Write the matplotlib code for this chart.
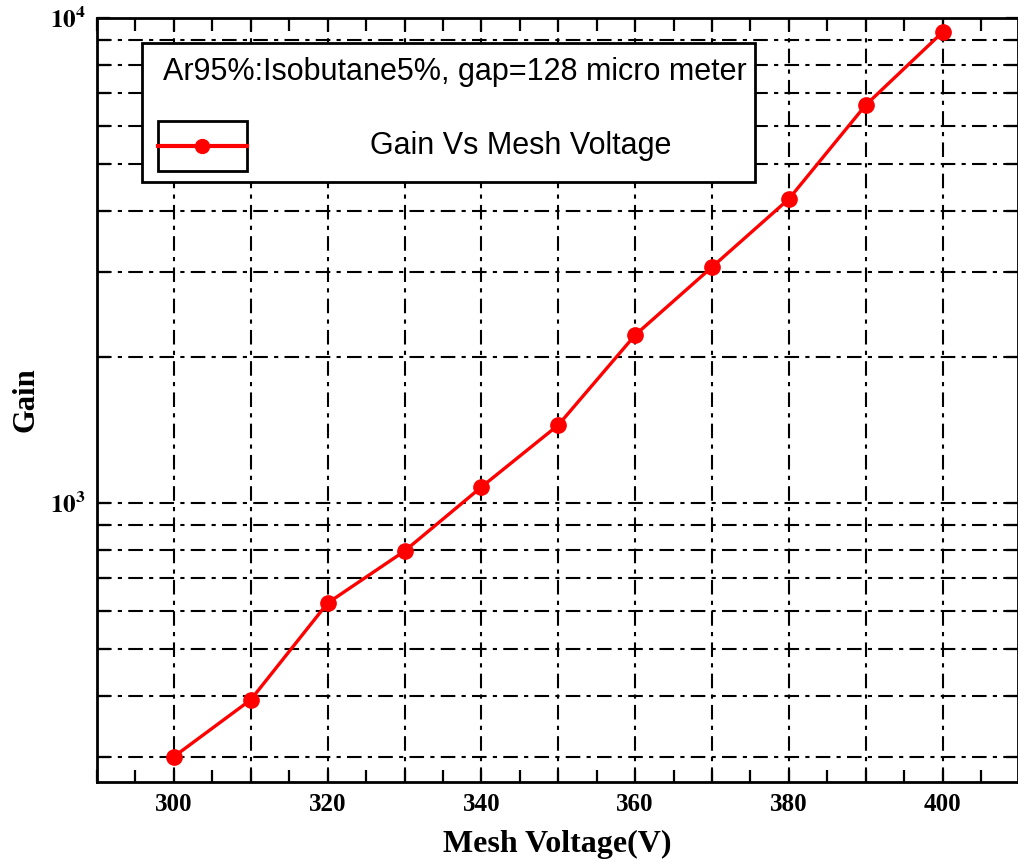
import numpy as np
import matplotlib
matplotlib.use("Agg")
import matplotlib.pyplot as plt
from matplotlib.patches import Rectangle
from matplotlib.ticker import MultipleLocator, FuncFormatter, LogLocator, NullFormatter

# data
mesh_voltage = [300, 310, 320, 330, 340, 350, 360, 370, 380, 390, 400]
gain = [300, 393, 622, 796, 1079, 1448, 2220, 3066, 4236, 6617, 9354]
legend_title = "Ar95%:Isobutane5%, gap=128 micro meter"
series_label = "Gain Vs Mesh Voltage"

plt.rcParams["mathtext.fontset"] = "stix"
serif = "Liberation Serif"
sans = "Liberation Sans"

fig = plt.figure(figsize=(10.18, 8.66), dpi=100)
ax = fig.add_axes([97 / 1018, 1 - 782 / 866, 921 / 1018, 764 / 866])

ax.plot(mesh_voltage, gain, color="red", lw=2.4, marker="o", ms=11, zorder=5)

ax.set_yscale("log")
ax.set_xlim(290, 409.8)
ax.set_ylim(266, 1e4)

ax.xaxis.set_major_locator(MultipleLocator(10))
ax.xaxis.set_minor_locator(MultipleLocator(5))
ax.xaxis.set_major_formatter(FuncFormatter(lambda v, p: "%d" % v if int(round(v)) % 20 == 0 else ""))
ax.yaxis.set_major_locator(LogLocator(base=10, numticks=10))
ax.yaxis.set_minor_locator(LogLocator(base=10, subs=np.arange(2, 10), numticks=20))
ax.yaxis.set_minor_formatter(NullFormatter())
ax.yaxis.set_major_formatter(FuncFormatter(lambda v, p: r"$\mathbf{10^{%d}}$" % int(round(np.log10(v)))))

ax.tick_params(which="both", direction="in", top=True, right=True, width=1.6, length=9,
               labelsize=18, pad=8)
for lab in ax.get_xticklabels() + ax.get_yticklabels():
    lab.set_fontfamily(serif)
    lab.set_fontweight("bold")

ax.grid(True, which="major", axis="x", color="black", lw=1.5, ls=(0, (7, 3, 2, 3)))
ax.grid(True, which="both", axis="y", color="black", lw=1.5, ls=(0, (7, 3, 2, 3)))
for s in ax.spines.values():
    s.set_linewidth(2)

ax.set_xlabel("Mesh Voltage(V)", fontfamily=serif, fontweight="bold", fontsize=23, labelpad=10)
ax.set_ylabel("Gain", fontfamily=serif, fontweight="bold", fontsize=22, labelpad=7)

# legend drawn as a framed box like the original
ax.add_patch(Rectangle((0.049, 0.785), 0.665, 0.182, transform=ax.transAxes,
                       facecolor="white", edgecolor="black", lw=2, zorder=8))
ax.text(0.0717, 0.929, legend_title, transform=ax.transAxes, fontfamily=sans,
        fontsize=22, va="center", ha="left", zorder=9)
ax.add_patch(Rectangle((0.066, 0.800), 0.097, 0.065, transform=ax.transAxes,
                       facecolor="white", edgecolor="black", lw=2, zorder=9))
ax.plot([0.066, 0.163], [0.8325, 0.8325], transform=ax.transAxes, color="red",
        lw=3, zorder=10)
ax.plot([0.1145], [0.8325], transform=ax.transAxes, color="red", marker="o",
        ms=10, zorder=10)
ax.text(0.296, 0.8325, series_label, transform=ax.transAxes, fontfamily=sans,
        fontsize=22, va="center", ha="left", zorder=9)

fig.savefig("out.png", dpi=100)
